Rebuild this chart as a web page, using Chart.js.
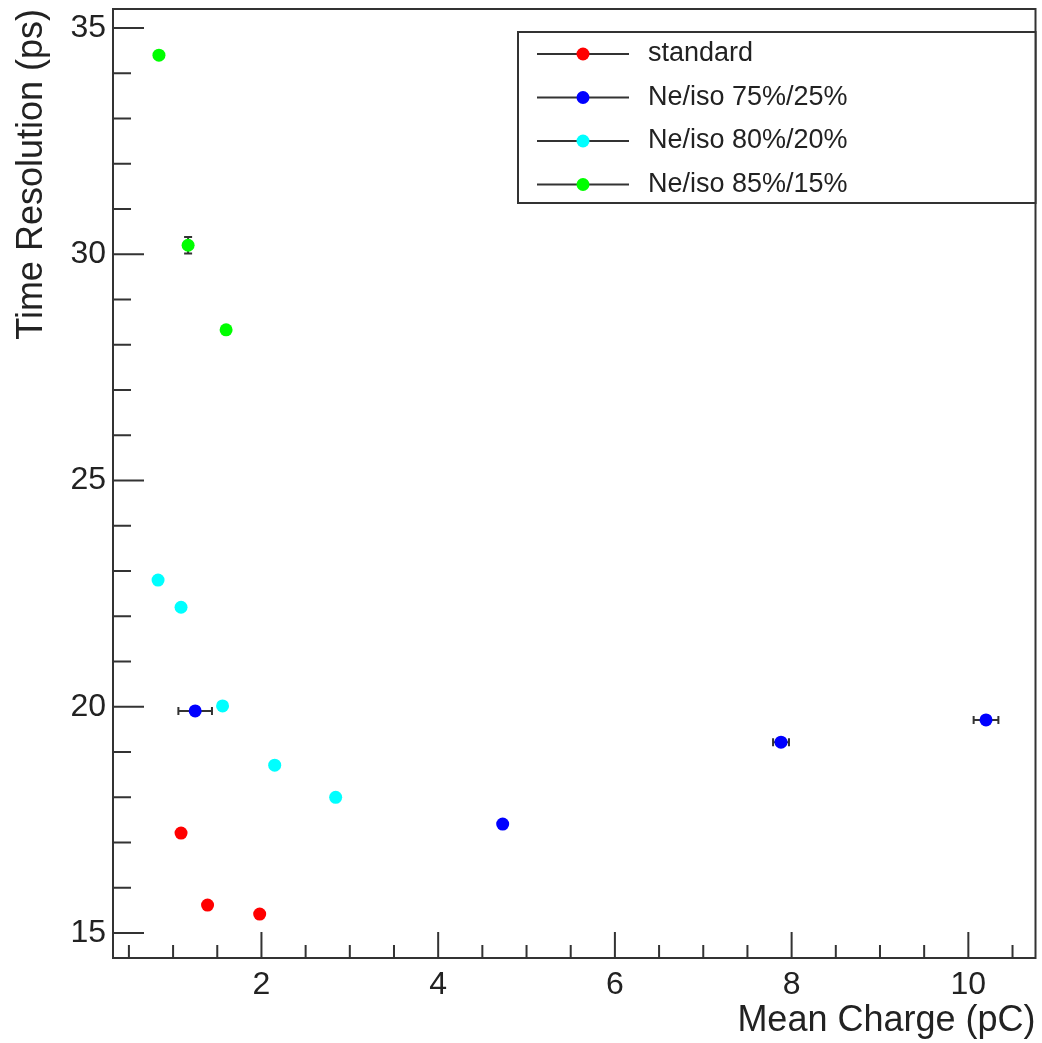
<!DOCTYPE html>
<html>
<head>
<meta charset="utf-8">
<script src="https://cdn.jsdelivr.net/npm/chart.js@4/dist/chart.umd.min.js"></script>
<style>
  body { margin: 0; background: #fff; }
  canvas { display: block; }
</style>
</head>
<body>
<canvas id="timeres_chart" width="1042" height="1043"></canvas>
<script>
// data (x = mean charge pC, y = time resolution ps)
var seriesNames = ['standard', 'Ne/iso 75%/25%', 'Ne/iso 80%/20%', 'Ne/iso 85%/15%'];
var seriesColors = ['#ff0000', '#0000ff', '#00ffff', '#00ff00'];

var standardX = [1.09, 1.39, 1.98];
var standardY = [17.21, 15.62, 15.42];
var standardXerr = [0, 0, 0];
var standardYerr = [0, 0, 0];

var ne75X = [1.25, 4.73, 7.88, 10.20];
var ne75Y = [19.91, 17.41, 19.22, 19.71];
var ne75Xerr = [0.19, 0, 0.09, 0.14];
var ne75Yerr = [0, 0, 0, 0];

var ne80X = [0.83, 1.09, 1.56, 2.15, 2.84];
var ne80Y = [22.80, 22.20, 20.02, 18.71, 18.00];
var ne80Xerr = [0, 0, 0, 0, 0];
var ne80Yerr = [0, 0, 0, 0, 0];

var ne85X = [0.84, 1.17, 1.60];
var ne85Y = [34.40, 30.20, 28.33];
var ne85Xerr = [0, 0, 0];
var ne85Yerr = [0, 0.18, 0];

var xTicks = [2, 4, 6, 8, 10];
var yTicks = [15, 20, 25, 30, 35];
var xRange = [0.32, 10.76];
var yRange = [14.45, 35.42];

var axisColor = '#333333';
var fontFamily = '"Liberation Sans", Arial, sans-serif';

function makePoints(xs, ys, xe, ye) {
  var pts = [];
  for (var i in xs) {
    pts.push({x: xs[i], y: ys[i], xErr: xe[i], yErr: ye[i]});
  }
  return pts;
}

var allSeries = [
  makePoints(standardX, standardY, standardXerr, standardYerr),
  makePoints(ne75X, ne75Y, ne75Xerr, ne75Yerr),
  makePoints(ne80X, ne80Y, ne80Xerr, ne80Yerr),
  makePoints(ne85X, ne85Y, ne85Xerr, ne85Yerr)
];

var datasets = [];
for (var s in allSeries) {
  datasets.push({
    label: seriesNames[s],
    data: allSeries[s],
    backgroundColor: seriesColors[s],
    borderColor: seriesColors[s],
    borderWidth: 0,
    pointRadius: 6.5,
    pointHoverRadius: 6.5,
    showLine: false
  });
}

// error bars, drawn under the markers
var errorBars = {
  id: 'errorBars',
  beforeDatasetsDraw: function(chart) {
    var ctx = chart.ctx, xs = chart.scales.x, ys = chart.scales.y;
    ctx.save();
    ctx.strokeStyle = axisColor;
    ctx.lineWidth = 2;
    chart.data.datasets.forEach(function(ds) {
      ds.data.forEach(function(p) {
        var px = xs.getPixelForValue(p.x), py = ys.getPixelForValue(p.y);
        if (p.xErr > 0) {
          var x1 = xs.getPixelForValue(p.x - p.xErr), x2 = xs.getPixelForValue(p.x + p.xErr);
          ctx.beginPath();
          ctx.moveTo(x1, py); ctx.lineTo(x2, py);
          ctx.moveTo(x1, py - 4); ctx.lineTo(x1, py + 4);
          ctx.moveTo(x2, py - 4); ctx.lineTo(x2, py + 4);
          ctx.stroke();
        }
        if (p.yErr > 0) {
          var y1 = ys.getPixelForValue(p.y - p.yErr), y2 = ys.getPixelForValue(p.y + p.yErr);
          ctx.beginPath();
          ctx.moveTo(px, y1); ctx.lineTo(px, y2);
          ctx.moveTo(px - 4, y1); ctx.lineTo(px + 4, y1);
          ctx.moveTo(px - 4, y2); ctx.lineTo(px + 4, y2);
          ctx.stroke();
        }
      });
    });
    ctx.restore();
  }
};

// ROOT style frame with ticks pointing inwards
var rootFrame = {
  id: 'rootFrame',
  afterDraw: function(chart) {
    var ctx = chart.ctx, a = chart.chartArea, xs = chart.scales.x, ys = chart.scales.y;
    ctx.save();
    ctx.strokeStyle = axisColor;
    ctx.lineWidth = 2;
    ctx.strokeRect(a.left, a.top, a.right - a.left, a.bottom - a.top);
    ctx.beginPath();
    for (var v = 0.5; v <= xRange[1]; v += 0.5) {
      if (v < xRange[0]) continue;
      var px = xs.getPixelForValue(v);
      var len = (v % 2 === 0) ? 26 : 13;
      ctx.moveTo(px, a.bottom);
      ctx.lineTo(px, a.bottom - len);
    }
    for (var w = 15; w <= yRange[1]; w += 1) {
      var py = ys.getPixelForValue(w);
      var len2 = (w % 5 === 0) ? 31 : 18;
      ctx.moveTo(a.left, py);
      ctx.lineTo(a.left + len2, py);
    }
    ctx.stroke();
    ctx.restore();
  }
};

// legend box in the top right corner
var rootLegend = {
  id: 'rootLegend',
  afterDraw: function(chart) {
    var ctx = chart.ctx, a = chart.chartArea;
    var boxL = 518, boxT = 32, boxR = a.right, boxB = 203;
    ctx.save();
    ctx.fillStyle = '#fff';
    ctx.fillRect(boxL, boxT, boxR - boxL, boxB - boxT);
    ctx.strokeStyle = axisColor;
    ctx.lineWidth = 2;
    ctx.strokeRect(boxL, boxT, boxR - boxL, boxB - boxT);
    ctx.font = '27px ' + fontFamily;
    ctx.textBaseline = 'middle';
    chart.data.datasets.forEach(function(ds, i) {
      var rowY = 54 + i * 43.5;
      ctx.beginPath();
      ctx.moveTo(537, rowY); ctx.lineTo(629, rowY);
      ctx.stroke();
      ctx.fillStyle = ds.backgroundColor;
      ctx.beginPath();
      ctx.arc(583, rowY, 6.5, 0, Math.PI * 2);
      ctx.fill();
      ctx.fillStyle = '#222';
      ctx.fillText(ds.label, 648, rowY);
    });
    ctx.restore();
  }
};

var ctx = document.getElementById('timeres_chart');
var chart = new Chart(ctx, {
  type: 'scatter',
  data: { datasets: datasets },
  plugins: [errorBars, rootFrame, rootLegend],
  options: {
    responsive: false,
    animation: false,
    layout: { padding: { left: 0, top: 9, right: 5, bottom: 0 } },
    plugins: { legend: { display: false }, tooltip: { enabled: false } },
    scales: {
      x: {
        type: 'linear',
        min: xRange[0],
        max: xRange[1],
        afterBuildTicks: function(scale) {
          scale.ticks = xTicks.map(function(v) { return {value: v}; });
        },
        afterFit: function(scale) {
          scale.height = 85;
          scale.paddingLeft = 0;
          scale.paddingRight = 0;
        },
        grid: { display: false, drawTicks: false },
        border: { display: false },
        ticks: {
          color: '#222',
          padding: 8,
          maxRotation: 0,
          font: { family: fontFamily, size: 32 }
        },
        title: {
          display: true,
          text: 'Mean Charge (pC)',
          align: 'end',
          color: '#222',
          padding: { top: 0, bottom: 0 },
          font: { family: fontFamily, size: 36 }
        }
      },
      y: {
        type: 'linear',
        min: yRange[0],
        max: yRange[1],
        afterBuildTicks: function(scale) {
          scale.ticks = yTicks.map(function(v) { return {value: v}; });
        },
        afterFit: function(scale) {
          scale.width = 113;
          scale.paddingTop = 0;
          scale.paddingBottom = 0;
        },
        grid: { display: false, drawTicks: false },
        border: { display: false },
        ticks: {
          color: '#222',
          padding: 7,
          font: { family: fontFamily, size: 32 }
        },
        title: {
          display: true,
          text: 'Time Resolution (ps)',
          align: 'end',
          color: '#222',
          padding: { top: 10, bottom: 0 },
          font: { family: fontFamily, size: 36 }
        }
      }
    }
  }
});
</script>
</body>
</html>
